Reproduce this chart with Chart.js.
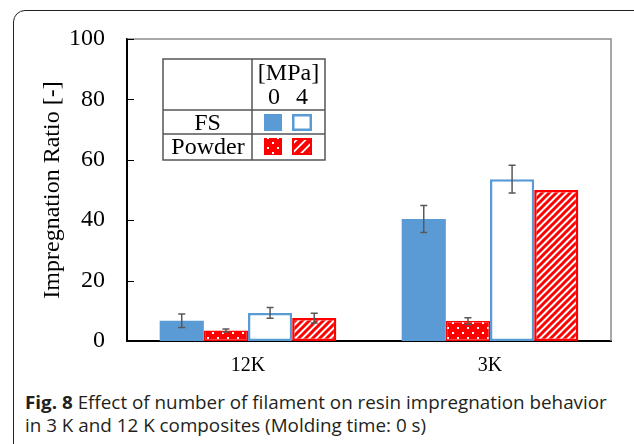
<!DOCTYPE html>
<html>
<head>
<meta charset="utf-8">
<script src="https://cdn.jsdelivr.net/npm/chart.js@4.4.0/dist/chart.umd.min.js"></script>
<style>
  html, body { margin: 0; padding: 0; background: #fff; overflow: hidden; }
  #frame { position: absolute; left: 13px; top: 10px; width: 640px; height: 460px;
           border: 1.5px solid #222; border-radius: 12px; }
  #wrap { position: absolute; left: 0; top: 0; width: 634px; height: 385px; }
  #caption { position: absolute; left: 25px; top: 390px; font-family: "Open Sans", sans-serif;
             font-size: 18.5px; line-height: 23px; color: #231f20; white-space: nowrap;
             transform-origin: 0 0; }
  #caption b { font-weight: 700; }
</style>
</head>
<body>
<div id="frame"></div>
<div id="wrap"><canvas id="chart"></canvas></div>
<div id="caption"><span id="line1"><b>Fig. 8</b> Effect of number of filament on resin impregnation behavior</span><br>in 3 K and 12 K composites (Molding time: 0 s)</div>
<script>
const categories = ["12K", "3K"];
const fs0 = [6.7, 40.4];
const fs0Err = [2.2, 4.5];
const powder0 = [3.5, 6.6];
const powder0Err = [0.5, 1.1];
const fs4 = [9.3, 53.6];
const fs4Err = [1.8, 4.6];
const powder4 = [7.6, 50.0];
const powder4Err = [1.6, 0];
const yTicks = [0, 20, 40, 60, 80, 100];

const BLUE = "#5b9bd5";
const RED = "#ff0000";

function dotPattern() {
  const c = document.createElement("canvas");
  c.width = 10; c.height = 10;
  const g = c.getContext("2d");
  g.fillStyle = RED; g.fillRect(0, 0, 10, 10);
  g.fillStyle = "#fff";
  g.fillRect(2, 2, 2, 2);
  g.fillRect(7, 7, 2, 2);
  return g.createPattern(c, "repeat");
}

function hatchPattern(size, lw) {
  const c = document.createElement("canvas");
  c.width = size; c.height = size;
  const g = c.getContext("2d");
  g.fillStyle = "#fff"; g.fillRect(0, 0, size, size);
  g.strokeStyle = RED; g.lineWidth = lw;
  g.beginPath();
  g.moveTo(-1, size + 1); g.lineTo(size + 1, -1);
  g.moveTo(-2, 2); g.lineTo(2, -2);
  g.moveTo(size - 2, size + 2); g.lineTo(size + 2, size - 2);
  g.stroke();
  return g.createPattern(c, "repeat");
}

const dots = dotPattern();
const hatch = hatchPattern(7, 3);
const hatchBig = hatchPattern(9, 4.5);

const errors = [fs0Err, powder0Err, fs4Err, powder4Err];

const errorBars = {
  id: "errorBars",
  afterDatasetsDraw(chart) {
    const ctx = chart.ctx;
    const y = chart.scales.y;
    ctx.save();
    ctx.strokeStyle = "#595959";
    ctx.lineWidth = 1.5;
    chart.data.datasets.forEach((ds, i) => {
      chart.getDatasetMeta(i).data.forEach((bar, j) => {
        const e = errors[i][j];
        if (!e) return;
        const v = ds.data[j];
        const top = y.getPixelForValue(v + e);
        const bot = y.getPixelForValue(v - e);
        ctx.beginPath();
        ctx.moveTo(bar.x, top); ctx.lineTo(bar.x, bot);
        ctx.moveTo(bar.x - 3.5, top); ctx.lineTo(bar.x + 3.5, top);
        ctx.moveTo(bar.x - 3.5, bot); ctx.lineTo(bar.x + 3.5, bot);
        ctx.stroke();
      });
    });
    ctx.restore();
  }
};

// frame lines and inward ticks
const frameLines = {
  id: "frameLines",
  afterDraw(chart) {
    const { ctx, chartArea: a } = chart;
    const y = chart.scales.y;
    ctx.save();
    ctx.strokeStyle = "#8c8c8c";
    ctx.lineWidth = 1.5;
    ctx.beginPath();
    ctx.moveTo(a.left, a.top); ctx.lineTo(a.right, a.top); ctx.lineTo(a.right, a.bottom);
    ctx.stroke();
    ctx.strokeStyle = "#000";
    ctx.lineWidth = 1;
    ctx.beginPath();
    yTicks.forEach(v => {
      const p = Math.round(y.getPixelForValue(v)) + 0.5;
      ctx.moveTo(a.left, p); ctx.lineTo(a.left + 7, p);
    });
    ctx.stroke();
    ctx.restore();
  }
};

// table-style legend
const tableLegend = {
  id: "tableLegend",
  afterDraw(chart) {
    const ctx = chart.ctx;
    ctx.save();
    ctx.fillStyle = "#fff";
    ctx.fillRect(163, 59, 162, 101);
    ctx.strokeStyle = "#555";
    ctx.lineWidth = 1.5;
    ctx.strokeRect(163, 59, 162, 101);
    ctx.beginPath();
    ctx.moveTo(252, 59); ctx.lineTo(252, 160);
    ctx.moveTo(163, 110); ctx.lineTo(325, 110);
    ctx.moveTo(163, 134); ctx.lineTo(325, 134);
    ctx.stroke();

    ctx.fillStyle = "#000";
    ctx.font = '24px "Liberation Serif"';
    ctx.textAlign = "center";
    ctx.textBaseline = "alphabetic";
    ctx.fillText("[MPa]", 288.5, 80);
    ctx.fillText("0", 274, 104);
    ctx.fillText("4", 302, 104);
    ctx.fillText("FS", 207.5, 130);
    ctx.fillText("Powder", 208, 154);

    ctx.fillStyle = BLUE;
    ctx.fillRect(264, 114, 18, 17);
    ctx.fillStyle = "#fff";
    ctx.fillRect(292, 114, 20, 17);
    ctx.strokeStyle = BLUE;
    ctx.lineWidth = 2.5;
    ctx.strokeRect(293.25, 115.25, 17.5, 14.5);

    ctx.fillStyle = dots;
    ctx.fillRect(264, 138, 18, 17);
    ctx.fillStyle = hatchBig;
    ctx.fillRect(292, 138, 20, 17);
    ctx.strokeStyle = RED;
    ctx.lineWidth = 2;
    ctx.strokeRect(293, 139, 18, 15);
    ctx.restore();
  }
};

Chart.defaults.font.family = '"Liberation Serif", "Times New Roman", serif';
Chart.defaults.color = "#000";

new Chart(document.getElementById("chart"), {
  type: "bar",
  data: {
    labels: categories,
    datasets: [
      { label: "FS 0 MPa", data: fs0, backgroundColor: BLUE, borderWidth: 0 },
      { label: "Powder 0 MPa", data: powder0, backgroundColor: dots, borderColor: RED, borderWidth: 1.5, borderSkipped: false },
      { label: "FS 4 MPa", data: fs4, backgroundColor: "#fff", borderColor: BLUE, borderWidth: 2.5, borderSkipped: false },
      { label: "Powder 4 MPa", data: powder4, backgroundColor: hatch, borderColor: RED, borderWidth: 2.5, borderSkipped: false }
    ]
  },
  options: {
    responsive: true,
    maintainAspectRatio: false,
    animation: false,
    layout: { padding: { top: 39, right: 23, left: 0, bottom: 4 } },
    plugins: { legend: { display: false }, tooltip: { enabled: false } },
    datasets: { bar: { barPercentage: 1, categoryPercentage: 0.73 } },
    scales: {
      x: {
        grid: { display: false, drawTicks: false },
        border: { color: "#000", width: 2 },
        ticks: { font: { size: 20 }, padding: 13 },
        afterFit: s => { s.height = 40; }
      },
      y: {
        min: 0,
        max: 100,
        grid: { display: false, drawTicks: false },
        border: { color: "#000", width: 2 },
        ticks: { font: { size: 24 }, padding: 22 },
        afterBuildTicks: s => { s.ticks = yTicks.map(v => ({ value: v })); },
        afterFit: s => { s.width = 127; },
        title: {
          display: true,
          text: "Impregnation Ratio [-]",
          font: { size: 24 },
          padding: { top: 38, bottom: 0 }
        }
      }
    }
  },
  plugins: [errorBars, frameLines, tableLegend]
});

// fit caption line 1 to the reference width
const line1 = document.getElementById("line1");
const cap = document.getElementById("caption");
const k = 582 / line1.getBoundingClientRect().width;
cap.style.transform = "scaleX(" + k.toFixed(3) + ")";
</script>
</body>
</html>
